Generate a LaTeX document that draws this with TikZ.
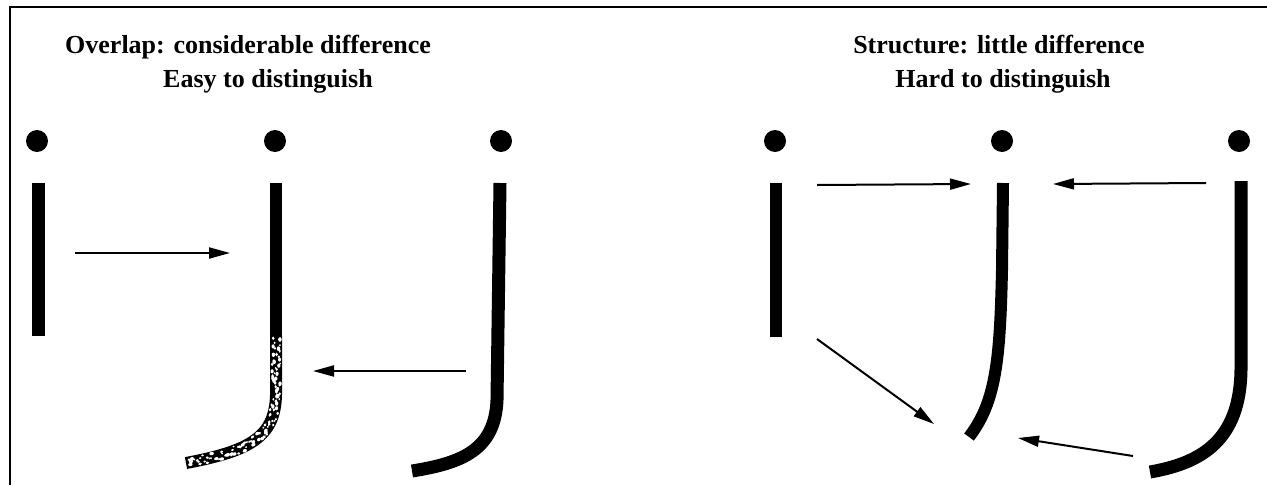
\documentclass[tikz,border=0pt]{standalone}
\usepackage{fontspec}
\setmainfont{Liberation Serif}
\usetikzlibrary{arrows.meta,decorations.markings}
\tikzset{
  title/.style={anchor=base, inner sep=0pt, font=\fontsize{26}{30}\selectfont\bfseries},
  stroke/.style={line width=13pt, line cap=butt, line join=round},
  conn/.style={line width=2pt, -{Triangle[length=21pt,width=11pt]}},
  dotmark/.style={circle, fill=black, minimum size=22pt, inner sep=0pt},
  speckle/.style={decoration={markings,
      mark=between positions 0.01 and 0.99 step 1.6pt with {
        \pgfmathsetmacro\ry{rand*4.3}
        \pgfmathsetmacro\rx{rand*1.0}
        \pgfmathsetmacro\rr{0.8+1.0*rnd}
        \fill[white] (\rx pt,\ry pt) ellipse ({1.3*\rr pt} and {\rr pt});}},
    postaction={decorate}},
}
\begin{document}
\begin{tikzpicture}[x=1pt,y=-1pt]
\pgfmathsetseed{12}
\useasboundingbox (0,0) rectangle (1267,485);
\fill[white] (0,0) rectangle (1267,485);
% frame (top and left only)
\draw[line width=2pt] (10,485) -- (10,7) -- (1267,7);

% titles
\node[title] (t1) at (248,53) {Overlap: considerable difference};
\node[title] (t2) at (268,87) {Easy to distinguish};
\node[title] (t3) at (999,53) {Structure: little difference};
\node[title] (t4) at (1003,87) {Hard to distinguish};

% ---------- left panel ----------
\node[dotmark] (d1) at (37,141) {};
\node[dotmark] (d2) at (275,141) {};
\node[dotmark] (d3) at (501,141) {};

\draw[stroke] (38,183) -- (38,336);
\draw[stroke, line width=12pt] (276,183) -- (276,336);
% textured tail
\draw[stroke, line width=12pt, speckle] (276,336) -- (276,395) .. controls (275,437) and (250,451) .. (186,463);

\draw[stroke] (500,183) -- (497,400) .. controls (495,450) and (462,463) .. (412,471);

\coordinate (a1s) at (75,253);
\coordinate (a1e) at (230,253);
\coordinate (a2s) at (466,371);
\coordinate (a2e) at (313,371);
\draw[conn] (a1s) -- (a1e);
\draw[conn] (a2s) -- (a2e);

% ---------- right panel ----------
\node[dotmark] (d4) at (775,141) {};
\node[dotmark] (d5) at (1002,141) {};
\node[dotmark] (d6) at (1239,141) {};

\draw[stroke, line width=12pt] (776,183) -- (776,337);
\draw[stroke, line width=12pt] (1003,183) -- (1002,270) .. controls (1000,360) and (996,402) .. (969,437);
\draw[stroke] (1241,181) -- (1241,370) .. controls (1240,440) and (1202,463) .. (1150,472);

\coordinate (b1s) at (817,185);
\coordinate (b1e) at (971,184);
\coordinate (b2s) at (1206,183);
\coordinate (b2e) at (1053,184);
\coordinate (b3s) at (817,339);
\coordinate (b3e) at (934,424);
\coordinate (b4s) at (1133,456);
\coordinate (b4e) at (1018,438);
\draw[conn] (b1s) -- (b1e);
\draw[conn] (b2s) -- (b2e);
\draw[conn] (b3s) -- (b3e);
\draw[conn] (b4s) -- (b4e);
\end{tikzpicture}
\end{document}
